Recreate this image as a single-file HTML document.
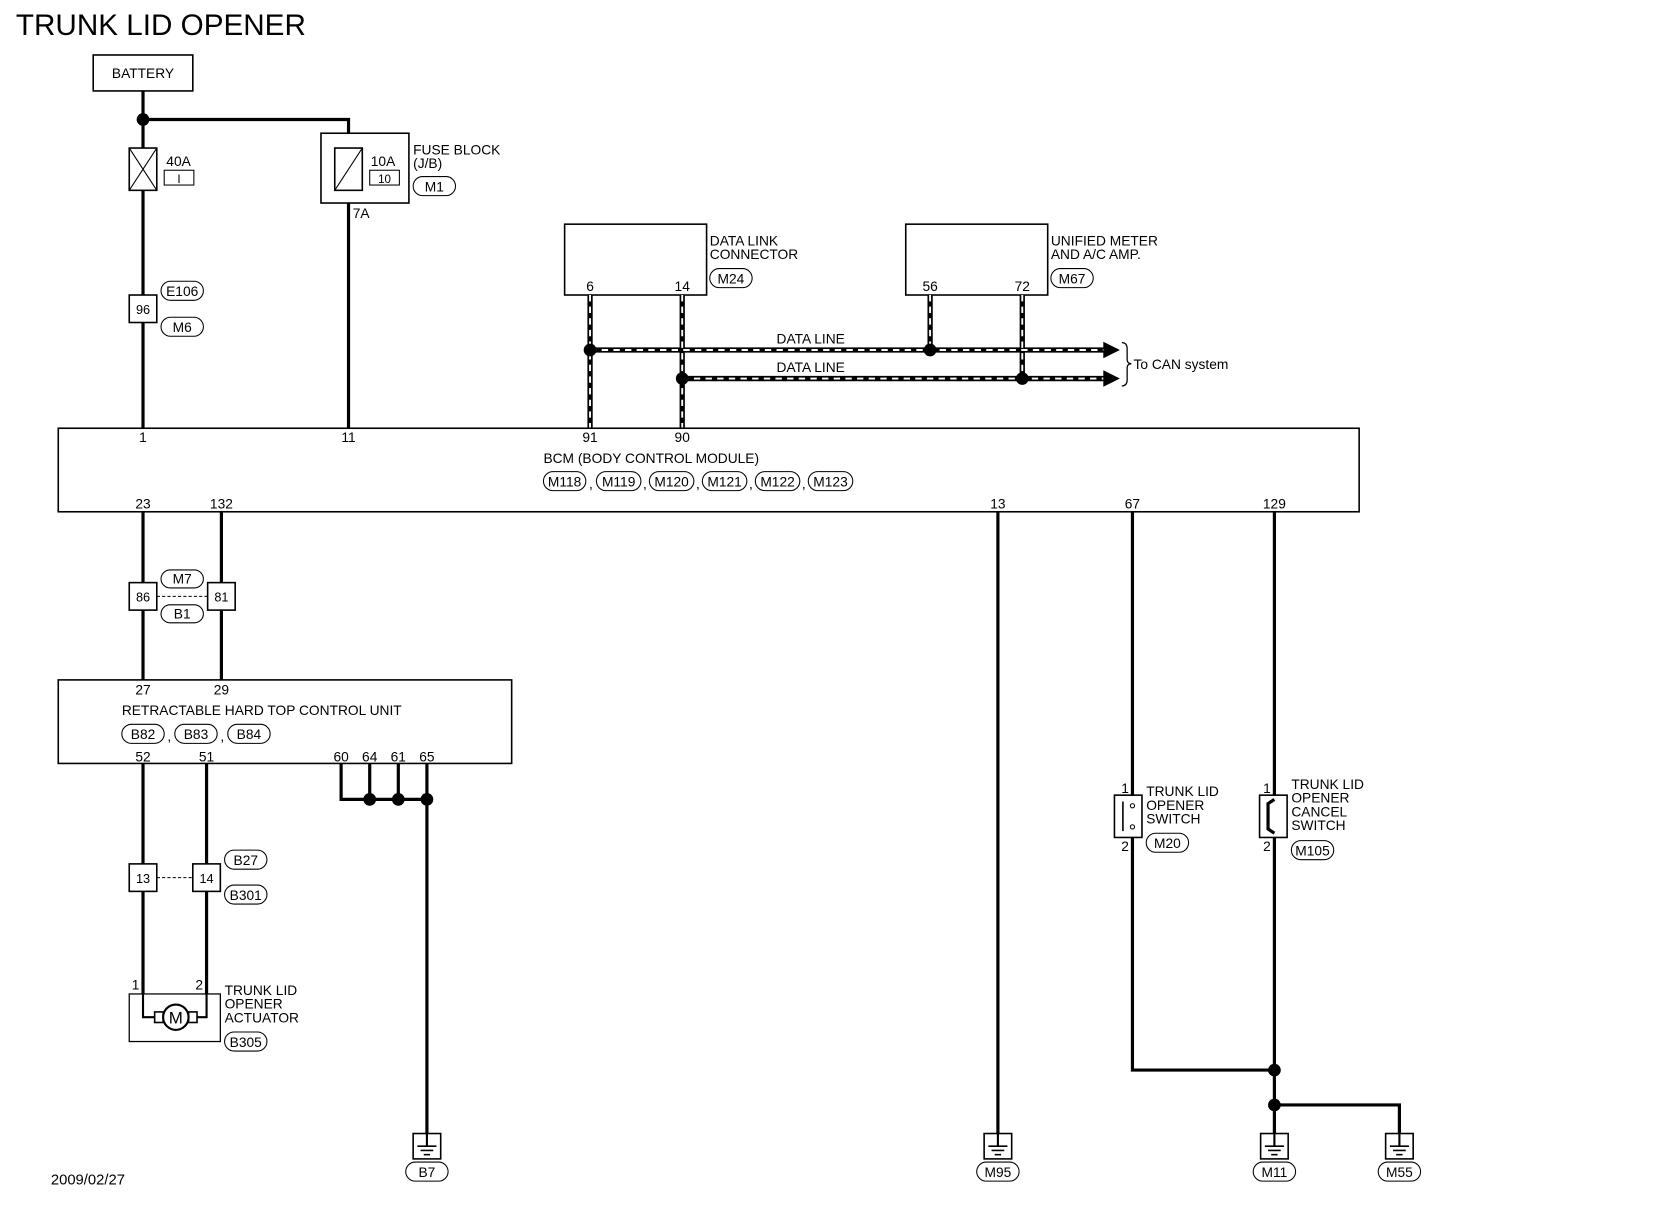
<!DOCTYPE html>
<html><head><meta charset="utf-8"><style>
html,body{margin:0;padding:0;background:#fff;}
svg{display:block;}
text{font-family:"Liberation Sans",sans-serif;font-size:13px;fill:#000;}
</style></head><body>
<svg width="1660" height="1216" viewBox="0 0 1567 1150" preserveAspectRatio="none" xmlns="http://www.w3.org/2000/svg">
<defs>
<g id="gnd"><rect x="-13" y="0" width="26" height="24" fill="#fff" stroke="#000" stroke-width="1.5"/><line x1="0" y1="0" x2="0" y2="12" stroke="#000" stroke-width="2"/><line x1="-9" y1="12" x2="9" y2="12" stroke="#000" stroke-width="1.5"/><line x1="-6" y1="16" x2="6" y2="16" stroke="#000" stroke-width="1.5"/><line x1="-3" y1="20" x2="3" y2="20" stroke="#000" stroke-width="1.5"/></g>
</defs>
<g fill="none" stroke="#000">
<text x="15" y="33" style="font-size:28px" stroke="none">TRUNK LID OPENER</text>
<rect x="88" y="52" width="94" height="34" stroke-width="1.5"/>
<g stroke-width="3">
<line x1="135" y1="86" x2="135" y2="405"/>
<polyline points="135,113 329,113 329,128"/>
<line x1="329" y1="192" x2="329" y2="405"/>
<line x1="135" y1="484" x2="135" y2="643"/>
<line x1="209" y1="484" x2="209" y2="643"/>
<line x1="135" y1="722" x2="135" y2="940"/>
<line x1="195" y1="722" x2="195" y2="940"/>
<polyline points="322,722 322,756 403,756"/>
<line x1="349" y1="722" x2="349" y2="756"/>
<line x1="376" y1="722" x2="376" y2="756"/>
<line x1="403" y1="722" x2="403" y2="1072"/>
<line x1="942" y1="484" x2="942" y2="1072"/>
<line x1="1069" y1="484" x2="1069" y2="752"/>
<polyline points="1069,792 1069,1012 1203,1012"/>
<line x1="1203" y1="484" x2="1203" y2="752"/>
<line x1="1203" y1="792" x2="1203" y2="1072"/>
<polyline points="1203,1045 1321,1045 1321,1072"/>
</g>
<rect x="122" y="140" width="26" height="40" fill="#fff" stroke-width="1.5"/>
<line x1="122" y1="140" x2="148" y2="180"/><line x1="148" y1="140" x2="122" y2="180"/>
<rect x="155" y="161" width="28" height="14"/>
<rect x="303" y="126" width="83" height="66" fill="#fff" stroke-width="1.5"/>
<rect x="316" y="140" width="26" height="40" stroke-width="1.5"/>
<line x1="342" y1="140" x2="316" y2="180"/>
<rect x="349" y="161" width="28" height="14"/>
<rect x="390" y="167" width="40" height="18" rx="9"/>
<rect x="122" y="279" width="26" height="26" fill="#fff" stroke-width="1.5"/>
<rect x="152" y="266" width="40" height="18" rx="9"/>
<rect x="152" y="300" width="40" height="18" rx="9"/>
<rect x="533" y="212" width="134" height="67" stroke-width="1.5"/>
<rect x="670" y="254" width="40" height="18" rx="9"/>
<rect x="855" y="212" width="134" height="67" stroke-width="1.5"/>
<rect x="992" y="254" width="40" height="18" rx="9"/>
<g stroke-width="5">
<line x1="557" y1="279" x2="557" y2="405"/><line x1="644" y1="279" x2="644" y2="405"/>
<line x1="878" y1="279" x2="878" y2="331"/><line x1="965" y1="279" x2="965" y2="358"/>
<line x1="557" y1="331" x2="1044" y2="331"/><line x1="644" y1="358" x2="1044" y2="358"/>
</g>
<g stroke="#fff" stroke-width="1.8" stroke-dasharray="6,5">
<line x1="557" y1="279" x2="557" y2="405"/><line x1="644" y1="279" x2="644" y2="405"/>
<line x1="878" y1="279" x2="878" y2="331"/><line x1="965" y1="279" x2="965" y2="358"/>
<line x1="557" y1="331" x2="1044" y2="331"/><line x1="644" y1="358" x2="1044" y2="358"/>
</g>
<polygon points="1042,324 1056,331 1042,338" fill="#000"/>
<polygon points="1042,351 1056,358 1042,365" fill="#000"/>
<path d="M1059,324 Q1064,324 1064,330 L1064,340 Q1064,344 1068,344 Q1064,344 1064,348 L1064,359 Q1064,365 1059,365" stroke-width="1.2"/>
<rect x="55" y="405" width="1228" height="79" stroke-width="1.5"/>
<rect x="513" y="446" width="40" height="18" rx="9"/>
<rect x="563" y="446" width="42" height="18" rx="9"/>
<rect x="613" y="446" width="42" height="18" rx="9"/>
<rect x="663" y="446" width="42" height="18" rx="9"/>
<rect x="713" y="446" width="42" height="18" rx="9"/>
<rect x="763" y="446" width="42" height="18" rx="9"/>
<rect x="122" y="551" width="26" height="26" fill="#fff" stroke-width="1.5"/>
<rect x="196" y="551" width="26" height="26" fill="#fff" stroke-width="1.5"/>
<line x1="148" y1="564" x2="196" y2="564" stroke-dasharray="3,2"/>
<rect x="152" y="539" width="40" height="17" rx="8.5"/>
<rect x="152" y="572" width="40" height="17" rx="8.5"/>
<rect x="55" y="643" width="428" height="79" stroke-width="1.5"/>
<rect x="115" y="685" width="40" height="18" rx="9"/>
<rect x="165" y="685" width="40" height="18" rx="9"/>
<rect x="215" y="685" width="40" height="18" rx="9"/>
<rect x="122" y="817" width="26" height="26" fill="#fff" stroke-width="1.5"/>
<rect x="182" y="817" width="26" height="26" fill="#fff" stroke-width="1.5"/>
<line x1="148" y1="830" x2="182" y2="830" stroke-dasharray="3,2"/>
<rect x="212" y="804" width="40" height="18" rx="9"/>
<rect x="212" y="837" width="40" height="18" rx="9"/>
<rect x="122" y="940" width="86" height="45" stroke-width="1.2"/>
<polyline points="135,940 135,962 146,962" stroke-width="2"/>
<polyline points="195,940 195,962 186,962" stroke-width="2"/>
<rect x="146" y="957" width="8" height="10" stroke-width="1.5"/>
<rect x="178" y="957" width="8" height="10" stroke-width="1.5"/>
<circle cx="166" cy="962" r="12" fill="#fff" stroke-width="2"/>
<rect x="212" y="976" width="40" height="18" rx="9"/>
<rect x="1052" y="752" width="26" height="40" stroke-width="1.5"/>
<line x1="1060" y1="758" x2="1060" y2="786" stroke-width="1.5"/>
<circle cx="1069" cy="762" r="2"/><circle cx="1069" cy="782" r="2"/>
<rect x="1082" y="788" width="40" height="18" rx="9"/>
<rect x="1189" y="752" width="26" height="40" stroke-width="1.5"/>
<polyline points="1203,756 1197,760 1197,784 1203,788" stroke-width="3"/>
<rect x="1219" y="795" width="40" height="18" rx="9"/>
<use href="#gnd" x="403" y="1072"/><use href="#gnd" x="942" y="1072"/>
<use href="#gnd" x="1203" y="1072"/><use href="#gnd" x="1321" y="1072"/>
<rect x="383" y="1099" width="40" height="18" rx="9"/>
<rect x="922" y="1099" width="40" height="18" rx="9"/>
<rect x="1183" y="1099" width="40" height="18" rx="9"/>
<rect x="1301" y="1099" width="40" height="18" rx="9"/>
</g>
<g fill="#000">
<circle cx="135" cy="113" r="6"/>
<circle cx="557" cy="331" r="6"/><circle cx="878" cy="331" r="6"/>
<circle cx="644" cy="358" r="6"/><circle cx="965" cy="358" r="6"/>
<circle cx="349" cy="756" r="6"/><circle cx="376" cy="756" r="6"/><circle cx="403" cy="756" r="6"/>
<circle cx="1203" cy="1012" r="6"/><circle cx="1203" cy="1045" r="6"/>
</g>
<text x="135" y="74" text-anchor="middle">BATTERY</text>
<text x="157" y="157">40A</text><text x="169" y="173" text-anchor="middle" style="font-size:11px">I</text>
<text x="350" y="157">10A</text><text x="363" y="173" text-anchor="middle" style="font-size:11px">10</text>
<text x="390" y="146">FUSE BLOCK</text><text x="390" y="159">(J/B)</text>
<text x="410" y="181" text-anchor="middle">M1</text>
<text x="333" y="206">7A</text>
<text x="135" y="297" text-anchor="middle" style="font-size:12px">96</text>
<text x="172" y="280" text-anchor="middle">E106</text><text x="172" y="314" text-anchor="middle">M6</text>
<text x="670" y="232">DATA LINK</text><text x="670" y="245">CONNECTOR</text>
<text x="690" y="268" text-anchor="middle">M24</text>
<text x="992" y="232">UNIFIED METER</text><text x="992" y="245">AND A/C AMP.</text>
<text x="1012" y="268" text-anchor="middle">M67</text>
<text x="557" y="275" text-anchor="middle">6</text><text x="644" y="275" text-anchor="middle">14</text>
<text x="878" y="275" text-anchor="middle">56</text><text x="965" y="275" text-anchor="middle">72</text>
<text x="733" y="325">DATA LINE</text><text x="733" y="352">DATA LINE</text>
<text x="1070" y="349">To CAN system</text>
<text x="135" y="418" text-anchor="middle">1</text><text x="329" y="418" text-anchor="middle">11</text>
<text x="557" y="418" text-anchor="middle">91</text><text x="644" y="418" text-anchor="middle">90</text>
<text x="513" y="438">BCM (BODY CONTROL MODULE)</text>
<text x="533" y="460" text-anchor="middle">M118</text><text x="584" y="460" text-anchor="middle">M119</text>
<text x="634" y="460" text-anchor="middle">M120</text><text x="684" y="460" text-anchor="middle">M121</text>
<text x="734" y="460" text-anchor="middle">M122</text><text x="784" y="460" text-anchor="middle">M123</text>
<text x="556" y="462">,</text><text x="607" y="462">,</text><text x="657" y="462">,</text><text x="707" y="462">,</text><text x="757" y="462">,</text>
<text x="135" y="481" text-anchor="middle">23</text><text x="209" y="481" text-anchor="middle">132</text>
<text x="942" y="481" text-anchor="middle">13</text><text x="1069" y="481" text-anchor="middle">67</text>
<text x="1203" y="481" text-anchor="middle">129</text>
<text x="135" y="569" text-anchor="middle" style="font-size:12px">86</text>
<text x="209" y="569" text-anchor="middle" style="font-size:12px">81</text>
<text x="172" y="552" text-anchor="middle">M7</text><text x="172" y="585" text-anchor="middle">B1</text>
<text x="135" y="657" text-anchor="middle">27</text><text x="209" y="657" text-anchor="middle">29</text>
<text x="115" y="676">RETRACTABLE HARD TOP CONTROL UNIT</text>
<text x="135" y="699" text-anchor="middle">B82</text><text x="185" y="699" text-anchor="middle">B83</text>
<text x="235" y="699" text-anchor="middle">B84</text>
<text x="158" y="701">,</text><text x="208" y="701">,</text>
<text x="135" y="720" text-anchor="middle">52</text><text x="195" y="720" text-anchor="middle">51</text>
<text x="322" y="720" text-anchor="middle">60</text><text x="349" y="720" text-anchor="middle">64</text>
<text x="376" y="720" text-anchor="middle">61</text><text x="403" y="720" text-anchor="middle">65</text>
<text x="135" y="835" text-anchor="middle" style="font-size:12px">13</text>
<text x="195" y="835" text-anchor="middle" style="font-size:12px">14</text>
<text x="232" y="818" text-anchor="middle">B27</text><text x="232" y="851" text-anchor="middle">B301</text>
<text x="128" y="936" text-anchor="middle">1</text><text x="188" y="936" text-anchor="middle">2</text>
<text x="166" y="968" text-anchor="middle" style="font-size:16px">M</text>
<text x="212" y="941">TRUNK LID</text><text x="212" y="954">OPENER</text><text x="212" y="967">ACTUATOR</text>
<text x="232" y="990" text-anchor="middle">B305</text>
<text x="1062" y="750" text-anchor="middle">1</text><text x="1062" y="805" text-anchor="middle">2</text>
<text x="1082" y="753">TRUNK LID</text><text x="1082" y="766">OPENER</text><text x="1082" y="779">SWITCH</text>
<text x="1102" y="802" text-anchor="middle">M20</text>
<text x="1196" y="750" text-anchor="middle">1</text><text x="1196" y="805" text-anchor="middle">2</text>
<text x="1219" y="746">TRUNK LID</text><text x="1219" y="759">OPENER</text><text x="1219" y="772">CANCEL</text><text x="1219" y="785">SWITCH</text>
<text x="1239" y="809" text-anchor="middle">M105</text>
<text x="403" y="1113" text-anchor="middle">B7</text><text x="942" y="1113" text-anchor="middle">M95</text>
<text x="1203" y="1113" text-anchor="middle">M11</text><text x="1321" y="1113" text-anchor="middle">M55</text>
<text x="48" y="1120" style="font-size:14px">2009/02/27</text>
</svg>
</body></html>
